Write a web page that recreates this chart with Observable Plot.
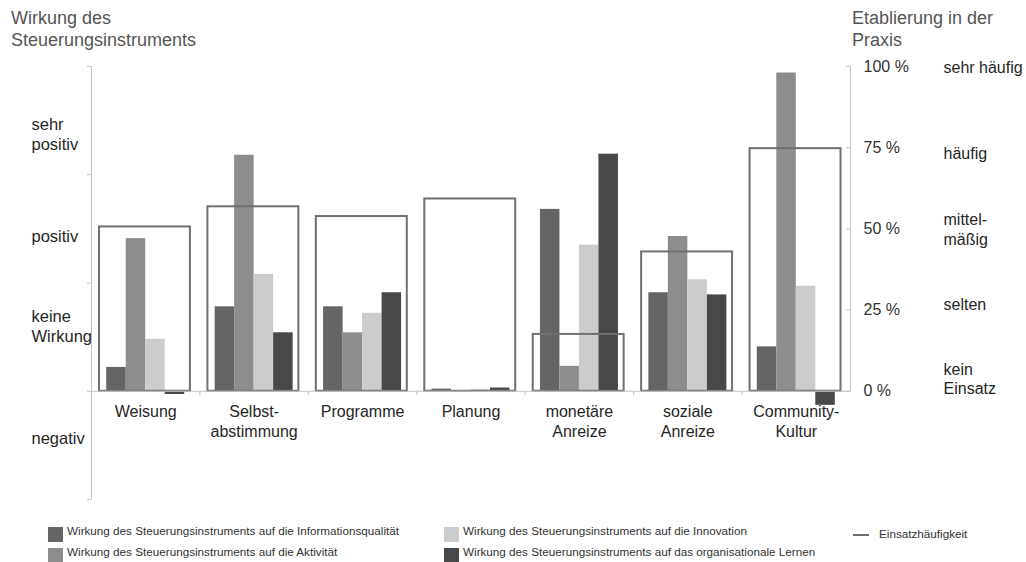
<!DOCTYPE html>
<html>
<head>
<meta charset="utf-8">
<script src="https://cdn.jsdelivr.net/npm/d3@7"></script>
<script src="https://cdn.jsdelivr.net/npm/@observablehq/plot@0.6"></script>
<style>
  html, body { margin: 0; padding: 0; background: #fff; }
  #wrap { position: relative; width: 1026px; height: 562px; font-family: "Liberation Sans", Arial, sans-serif; overflow: hidden; }
  #chart { position: absolute; left: 0; top: 0; }
  .title { position: absolute; font-size: 18px; line-height: 22px; color: #555; white-space: pre; }
  .leg { position: absolute; font-size: 11.7px; color: #333; white-space: nowrap; line-height: 14px; }
  .sw { position: absolute; width: 15px; height: 15px; }
  .ln { position: absolute; width: 16px; height: 2px; background: #6f6f6f; }
</style>
</head>
<body>
<div id="wrap">
  <div id="chart"></div>
</div>
<script>
// ---- data ----
const categories = ["Weisung", "Selbst-\nabstimmung", "Programme", "Planung", "monetäre\nAnreize", "soziale\nAnreize", "Community-\nKultur"];
const seriesNames = [
  "Wirkung des Steuerungsinstruments auf die Informationsqualität",
  "Wirkung des Steuerungsinstruments auf die Aktivität",
  "Wirkung des Steuerungsinstruments auf die Innovation",
  "Wirkung des Steuerungsinstruments auf das organisationale Lernen"
];
const seriesColors = ["#656567", "#8d8d90", "#cbcccd", "#48484a"];
// Wirkung (1 unit = one left-axis tick interval, 0 = keine Wirkung baseline)
const informationsqualitaet = [0.22, 0.78, 0.78, 0.02, 1.68, 0.91, 0.41];
const aktivitaet            = [1.41, 2.18, 0.54, -0.01, 0.23, 1.43, 2.94];
const innovation            = [0.48, 1.08, 0.72, 0.015, 1.35, 1.03, 0.97];
const lernen                = [-0.03, 0.54, 0.91, 0.03, 2.19, 0.89, -0.13];
// Etablierung in der Praxis (Einsatzhäufigkeit, %)
const einsatz = [50.6, 56.8, 53.8, 59.2, 17.5, 42.9, 74.7];

const wirkungTicks = [-1, 0, 1, 2, 3];
const wirkungLabels = ["sehr\npositiv", "positiv", "keine\nWirkung", "negativ"];
const wirkungLabelAt = [2.38, 1.44, 0.61, -0.43];
const praxisTicks = [0, 25, 50, 75, 100];
const praxisLabels = ["kein\nEinsatz", "selten", "mittel-\nmäßig", "häufig", "sehr häufig"];
const praxisLabelAt = [4, 27, 50, 73.5, 100];
const legendLine = "Einsatzhäufigkeit";

// ---- layout ----
const W = 1026, H = 512;
const mL = 91, mR = 176, mT = 66, mB = 13;
const yMin = -1, yMax = 3;
const pctToY = p => p / 100 * yMax;
const bandPx = (W - mL - mR) / categories.length;
const barW = 19.5;
const outer = (bandPx - 4 * barW) / 2;

const seriesValues = [informationsqualitaet, aktivitaet, innovation, lernen];
const idx = categories.map((c, i) => i);
const font = "Liberation Sans, Arial, sans-serif";

const barMarks = seriesValues.map((vals, s) =>
  Plot.rectY(idx, {
    x1: i => i, x2: i => i + 1,
    y1: 0, y2: i => vals[i],
    fill: seriesColors[s],
    insetLeft: outer + s * barW,
    insetRight: outer + (3 - s) * barW
  })
);

const chart = Plot.plot({
  width: W, height: H,
  marginLeft: mL, marginRight: mR, marginTop: mT, marginBottom: mB,
  style: { fontFamily: font, background: "white", overflow: "visible" },
  x: { type: "linear", domain: [0, categories.length], axis: null },
  y: { domain: [yMin, yMax], axis: null },
  marks: [
    // axis lines
    Plot.ruleX([0], { y1: yMin, y2: yMax, stroke: "#c4c4c4" }),
    Plot.ruleX([categories.length], { y1: 0, y2: yMax, stroke: "#c4c4c4" }),
    Plot.axisY(wirkungTicks, { anchor: "left", tickSize: 4, tickFormat: () => "", stroke: "#c4c4c4" }),
    Plot.axisY(praxisTicks.map(pctToY), {
      anchor: "right", tickSize: -5, tickPadding: 18, stroke: "#c4c4c4",
      tickFormat: d => Math.round(d / yMax * 100) + " %",
      fontSize: 16, fill: "#333", textAnchor: "start"
    }),
    Plot.ruleX(d3.range(1, categories.length), { y1: 0, y2: -0.04, stroke: "#c4c4c4" }),
    // bars
    ...barMarks,
    // Einsatzhäufigkeit boxes
    Plot.rectY(idx, {
      x1: i => i, x2: i => i + 1, y1: 0, y2: i => pctToY(einsatz[i]),
      fill: "none", stroke: "#707070", strokeWidth: 2,
      insetLeft: 8, insetRight: 9.5
    }),
    Plot.ruleY([0], { stroke: "#c4c4c4" }),
    // category labels
    Plot.text(idx, {
      x: i => i + 0.5, y: () => 0, text: i => categories[i],
      dy: 12, lineAnchor: "top", lineHeight: 1.25,
      fontSize: 16, fill: "#262626"
    }),
    // left qualitative labels
    Plot.text(wirkungLabels, {
      y: (d, i) => wirkungLabelAt[i], text: d => d,
      frameAnchor: "left", dx: -60, textAnchor: "start",
      lineHeight: 1.22, fontSize: 16.5, fill: "#262626"
    }),
    // right qualitative labels
    Plot.text(praxisLabels, {
      y: (d, i) => pctToY(praxisLabelAt[i]), text: d => d,
      frameAnchor: "right", dx: 93, textAnchor: "start",
      lineHeight: 1.2, fontSize: 16, fill: "#262626"
    })
  ]
});
document.getElementById("chart").appendChild(chart);

// ---- titles & legend (HTML) ----
const wrap = document.getElementById("wrap");
function add(cls, text, css) {
  const d = document.createElement("div");
  d.className = cls;
  if (text != null) d.textContent = text;
  Object.assign(d.style, css);
  wrap.appendChild(d);
  return d;
}
add("title", "Wirkung des\nSteuerungsinstruments", { left: "11px", top: "7px" });
add("title", "Etablierung in der\nPraxis", { left: "852px", top: "7px" });

const legPos = [[48, 527], [48, 548], [444, 527], [444, 548]];
seriesNames.forEach((name, s) => {
  const [x, y] = legPos[s];
  add("sw", null, { left: x + "px", top: y + "px", background: seriesColors[s] });
  add("leg", name, { left: (x + 19) + "px", top: (y - 3) + "px" });
});
add("ln", null, { left: "853px", top: "534px" });
add("leg", legendLine, { left: "879px", top: "527px" });
</script>
</body>
</html>
